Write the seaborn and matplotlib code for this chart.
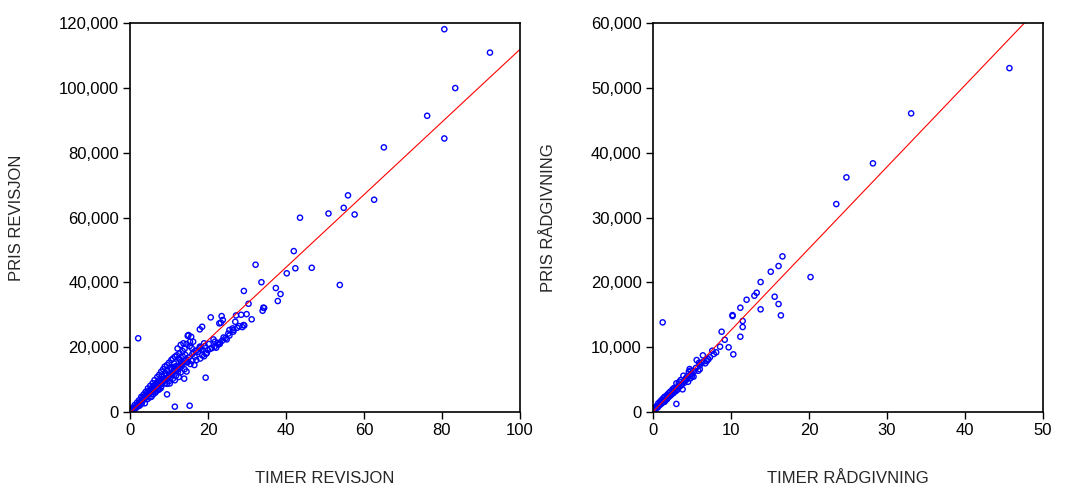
import numpy as np
import pandas as pd
import matplotlib
matplotlib.use('Agg')
import matplotlib.pyplot as plt
import matplotlib.ticker as mticker
import seaborn as sns

# revisjon: timer / pris
timer_revisjon = [
    92.3, 80.6, 83.4, 76.2, 80.6, 65.1,
    43.6, 55.9, 50.9, 54.8, 57.6, 62.6,
    46.6, 53.8, 42.0, 32.2, 42.4, 40.2,
    33.7, 29.2, 37.4, 38.6, 37.9, 30.4,
    34.2, 34.0, 34.4, 20.7, 23.5, 23.3, 23.8, 22.9,
    27.2, 28.5, 29.9, 31.2, 27.0, 18.5,
    27.5, 28.0, 28.8, 29.3, 26.3, 25.5,
    26.5, 24.8, 23.1, 22.1, 24.0, 25.2, 23.6, 22.6,
    19.4, 2.1, 11.5, 15.3, 13.9, 9.5, 17.9,
    17.9, 18.7, 19.7, 21.7, 20.0, 21.8, 26.5, 29.1,
    15.7, 16.2, 15.3, 14.5, 14.0, 13.5, 12.7, 12.0, 11.5, 11.0, 10.6, 10.0,
    9.5, 8.9, 8.5, 8.0, 7.5, 7.0, 6.3, 5.8, 5.2, 4.6, 4.0, 3.5, 2.9, 2.3,
    1.8, 1.2, 0.8, 0.4, 13.7, 15.0, 15.4, 14.8, 13.0, 12.2,
    17.9, 16.6, 14.9, 13.2, 12.3, 10.6, 8.9, 7.2, 5.5, 3.8, 18.5, 19.5,
    16.0, 15.5, 14.0, 13.0, 11.8, 11.0, 10.0, 9.5, 8.0, 7.5, 6.5, 6.0,
    5.0, 4.5, 3.0, 2.5, 2.0, 1.5, 1.0, 0.5, 0.2,
    2.0, 3.0, 4.0, 5.0, 6.0, 7.0, 8.0, 9.0, 10.0, 11.0, 12.0, 13.0,
    14.0, 15.0, 16.0, 17.0, 18.0, 19.0, 1.5, 2.5, 3.5, 4.5, 5.5, 6.5,
    7.5, 8.5, 9.5, 10.5, 11.5, 12.5, 13.5, 14.5, 0.3, 0.6, 1.0,
    3.2, 4.2, 5.5, 6.8, 7.8, 9.0, 10.3, 11.3, 12.5, 13.5, 9.5, 8.2,
    6.0, 4.8, 10.2, 11.5, 12.5, 14.5, 16.5, 17.0, 18.0, 19.0, 20.5, 21.0,
    22.5, 23.0, 24.5, 25.5,
    3.7, 4.4, 5.3, 6.2, 7.3, 8.4, 9.2, 10.8, 11.9, 12.9, 14.2, 15.8,
    6.6, 7.9, 8.7, 9.8, 10.9, 12.1, 13.4, 14.6, 16.3, 17.4, 18.3, 20.2,
    2.6, 3.4, 4.9, 5.9, 7.1, 8.3, 9.3, 11.2, 13.1, 16.8, 19.2, 21.4,
]
pris_revisjon = [
    110900, 118100, 99950, 91400, 84400, 81650,
    59950, 66850, 61250, 63000, 60950, 65500,
    44500, 39200, 49650, 45450, 44350, 42800,
    40050, 37350, 38250, 36400, 34250, 33400,
    32200, 31250, 32100, 29200, 29600, 27550, 28400, 27350,
    29800, 30000, 30200, 28600, 27850, 26300,
    26000, 26500, 26200, 26700, 25800, 25300,
    25300, 22400, 21400, 19850, 23000, 24200, 22000, 20800,
    10600, 22750, 1650, 1950, 10300, 5450, 25500,
    20150, 19100, 18200, 20150, 19100, 21700, 24800, 26840,
    23200, 21700, 20350, 21000, 19500, 18800, 18100, 17500, 17050, 16500, 16050, 15200,
    14500, 14000, 13200, 12450, 11500, 10800, 9850, 8900, 8100, 7300, 6200, 5400, 4700, 3600,
    2900, 2150, 1300, 700, 21200, 23750, 21700, 23500, 20700, 19600,
    19650, 17050, 15500, 14000, 12450, 11400, 8850, 6800, 4700, 2700, 17500, 18000,
    15800, 14800, 13200, 12200, 11200, 10300, 9500, 8700, 7800, 7000, 6000, 5500,
    4500, 4000, 2600, 2000, 1700, 1200, 800, 400, 200,
    2200, 3300, 4400, 5600, 6700, 7800, 8900, 10000, 11200, 12300, 13400, 14500,
    15700, 16800, 17900, 19000, 20100, 21200, 1700, 2800, 3900, 5000, 6200, 7300,
    8400, 9500, 10600, 11800, 12900, 14000, 15100, 16200, 350, 700, 1100,
    4500, 5800, 7200, 9000, 10200, 12000, 13600, 15000, 16500, 17200, 12800, 11000,
    8000, 6600, 8800, 9800, 10800, 12500, 14500, 16000, 16500, 17200, 19500, 19700,
    21300, 21000, 22800, 23600,
    4800, 5300, 6800, 7600, 9300, 10100, 11900, 13300, 14200, 16100, 17600, 19800,
    6300, 7400, 9700, 10400, 11600, 13000, 14700, 15300, 18400, 18600, 19300, 21000,
    3100, 3700, 5900, 7000, 8600, 9000, 11300, 13900, 15600, 18800, 20300, 22400,
]

# radgivning: timer / pris
timer_radgivning = [
    45.7, 33.1, 28.2, 24.8, 23.5, 20.2, 16.6, 16.1, 15.1, 13.8, 13.3, 13.0,
    12.0, 11.2, 10.2, 10.2, 11.5, 11.5, 11.2, 15.6, 16.1, 13.8, 16.4, 9.2,
    8.8, 9.7, 8.6, 10.3, 1.24, 7.6, 8.1, 7.8, 6.4, 7.3, 7.1, 6.9,
    6.7, 5.6, 4.7, 4.8, 5.8, 5.2, 4.5, 3.55, 3.4, 3.0, 2.5, 3.8,
    2.2, 2.0, 1.8, 1.5, 1.3, 1.1, 0.9, 0.68, 0.47, 0.26, 0.04, 3.0,
    5.0, 5.5, 6.0, 6.2, 4.2, 4.0, 3.7, 3.2, 2.8, 2.6, 2.3, 2.1,
    1.9, 1.7, 1.4, 1.2, 1.0, 0.8, 0.6, 0.3, 0.15, 6.0, 5.3, 4.4,
    3.9, 3.3, 2.7, 5.9, 7.0, 6.5, 4.6, 4.9, 4.3, 3.6, 3.1, 2.4,
    2.0, 1.6, 5.0, 4.8, 4.0, 2.9,
    1.5, 2.2, 2.6, 3.4, 0.9, 1.8, 2.9, 4.1, 0.5, 1.3,
]
pris_radgivning = [
    53050, 46070, 38360, 36200, 32080, 20820, 24010, 22520, 21640, 20050, 18400, 17940,
    17320, 16090, 14800, 14950, 14040, 13110, 11620, 17790, 16660, 15840, 14910, 11150,
    12390, 9980, 10080, 8900, 13830, 9460, 9210, 8950, 8740, 8440, 8130, 7870,
    7510, 8020, 6630, 6370, 6370, 5450, 4670, 4940, 4670, 4430, 3500, 3500,
    3130, 2880, 2620, 2360, 2110, 1850, 1590, 1340, 925, 570, 150, 1250,
    6000, 6800, 7200, 7600, 5200, 4800, 4300, 3900, 3400, 3000, 2600, 2400,
    2200, 1900, 1600, 1400, 1200, 1000, 700, 400, 200, 6600, 6300, 5500,
    5600, 4400, 3700, 7600, 8200, 7800, 6200, 5800, 5000, 4100, 3400, 2800,
    2500, 2000, 5500, 5200, 4500, 3200,
    1600, 2700, 2900, 3900, 1300, 2000, 3600, 4900, 700, 1700,
]

rev = pd.DataFrame({'timer': timer_revisjon, 'pris': pris_revisjon})
rad = pd.DataFrame({'timer': timer_radgivning, 'pris': pris_radgivning})

sns.set_style('white')
plt.rcParams['font.family'] = ['Liberation Sans', 'DejaVu Sans']
plt.rcParams['font.size'] = 12

fig = plt.figure(figsize=(10.77, 4.88), dpi=100)
ax1 = fig.add_axes([0.1207, 0.1557, 0.3621, 0.797])
ax2 = fig.add_axes([0.6063, 0.1557, 0.3621, 0.797])

panels = [
    (ax1, rev, 100, 20, 120000, 20000, 'TIMER REVISJON', 'PRIS REVISJON'),
    (ax2, rad, 50, 10, 60000, 10000, 'TIMER RÅDGIVNING', 'PRIS RÅDGIVNING'),
]

for ax, df, xmax, xstep, ymax, ystep, xlab, ylab in panels:
    ax.set_xlim(0, xmax)
    ax.set_ylim(0, ymax)
    sns.regplot(data=df, x='timer', y='pris', ax=ax, ci=None, truncate=False,
                marker='o',
                scatter_kws={'s': 14, 'facecolors': 'none', 'edgecolors': '#0000ff',
                             'linewidths': 1.0, 'alpha': 1},
                line_kws={'color': '#ff0000', 'lw': 0.8})
    ax.set_xlim(0, xmax)
    ax.set_ylim(0, ymax)
    ax.set_xticks(np.arange(0, xmax + 1, xstep))
    ax.set_yticks(np.arange(0, ymax + 1, ystep))
    ax.yaxis.set_major_formatter(mticker.StrMethodFormatter('{x:,.0f}'))
    ax.tick_params(direction='out', length=5, width=1, colors='black',
                   labelsize=12, bottom=True, left=True, top=False, right=False, pad=3)
    for sp in ax.spines.values():
        sp.set_color('black')
        sp.set_linewidth(1.2)
    ax.set_xlabel(xlab, fontsize=12, labelpad=24)
    ax.set_ylabel(ylab, fontsize=12, labelpad=25)

fig.savefig('out.png', dpi=100)
